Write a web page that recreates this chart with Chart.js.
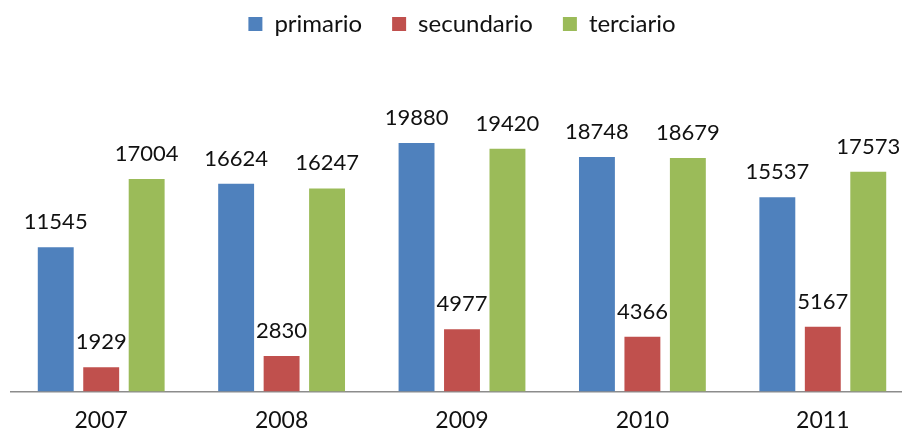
<!DOCTYPE html>
<html>
<head>
<meta charset="utf-8">
<script src="https://cdn.jsdelivr.net/npm/chart.js@4.4.1/dist/chart.umd.min.js"></script>
<style>
    html, body { margin: 0; padding: 0; background: #fff; }
    #wrap { width: 902px; height: 432px; overflow: hidden; position: relative; }
    #box { width: 915px; height: 432px; }
</style>
</head>
<body>
<div id="wrap"><div id="box"><canvas id="chart"></canvas></div></div>
<script>
// Data
const years = ['2007', '2008', '2009', '2010', '2011'];
const primario = [11545, 16624, 19880, 18748, 15537];
const secundario = [1929, 2830, 4977, 4366, 5167];
const terciario = [17004, 16247, 19420, 18679, 17573];

const fontFamily = 'Lato, "Open Sans", sans-serif';

// Draws the value above each bar
const valueLabels = {
    id: 'valueLabels',
    afterDatasetsDraw(chart) {
        const ctx = chart.ctx;
        ctx.save();
        ctx.font = '22px ' + fontFamily;
        ctx.fillStyle = '#111';
        ctx.textAlign = 'center';
        ctx.textBaseline = 'bottom';
        chart.data.datasets.forEach((ds, i) => {
            chart.getDatasetMeta(i).data.forEach((bar, j) => {
                ctx.fillText(ds.data[j], bar.x, bar.y - 14);
            });
        });
        ctx.restore();
    }
};

// Extra room under the legend
const legendMargin = {
    id: 'legendMargin',
    beforeInit(chart) {
        const origFit = chart.legend.fit;
        chart.legend.fit = function() {
            origFit.bind(chart.legend)();
            this.height += 33;
        };
    }
};

const ctx = document.getElementById('chart').getContext('2d');
new Chart(ctx, {
    type: 'bar',
    data: {
        labels: years,
        datasets: [
            { label: 'primario', data: primario, backgroundColor: '#4F81BD' },
            { label: 'secundario', data: secundario, backgroundColor: '#C0504D' },
            { label: 'terciario', data: terciario, backgroundColor: '#9BBB59' }
        ]
    },
    options: {
        responsive: true,
        maintainAspectRatio: false,
        animation: false,
        categoryPercentage: 0.756,
        barPercentage: 0.79,
        layout: { padding: { top: -18, left: 11, right: 2, bottom: -17 } },
        scales: {
            x: {
                grid: { display: false, drawTicks: false },
                border: { color: '#8c8c8c', width: 1.5 },
                ticks: {
                    padding: 15,
                    color: '#111',
                    font: { family: fontFamily, size: 23 }
                }
            },
            y: {
                display: false,
                min: 0,
                max: 25000
            }
        },
        plugins: {
            legend: {
                position: 'top',
                labels: {
                    boxWidth: 14,
                    boxHeight: 14,
                    padding: 30,
                    color: '#111',
                    font: { family: fontFamily, size: 24 }
                }
            },
            tooltip: { enabled: false }
        }
    },
    plugins: [valueLabels, legendMargin]
});
</script>
</body>
</html>
